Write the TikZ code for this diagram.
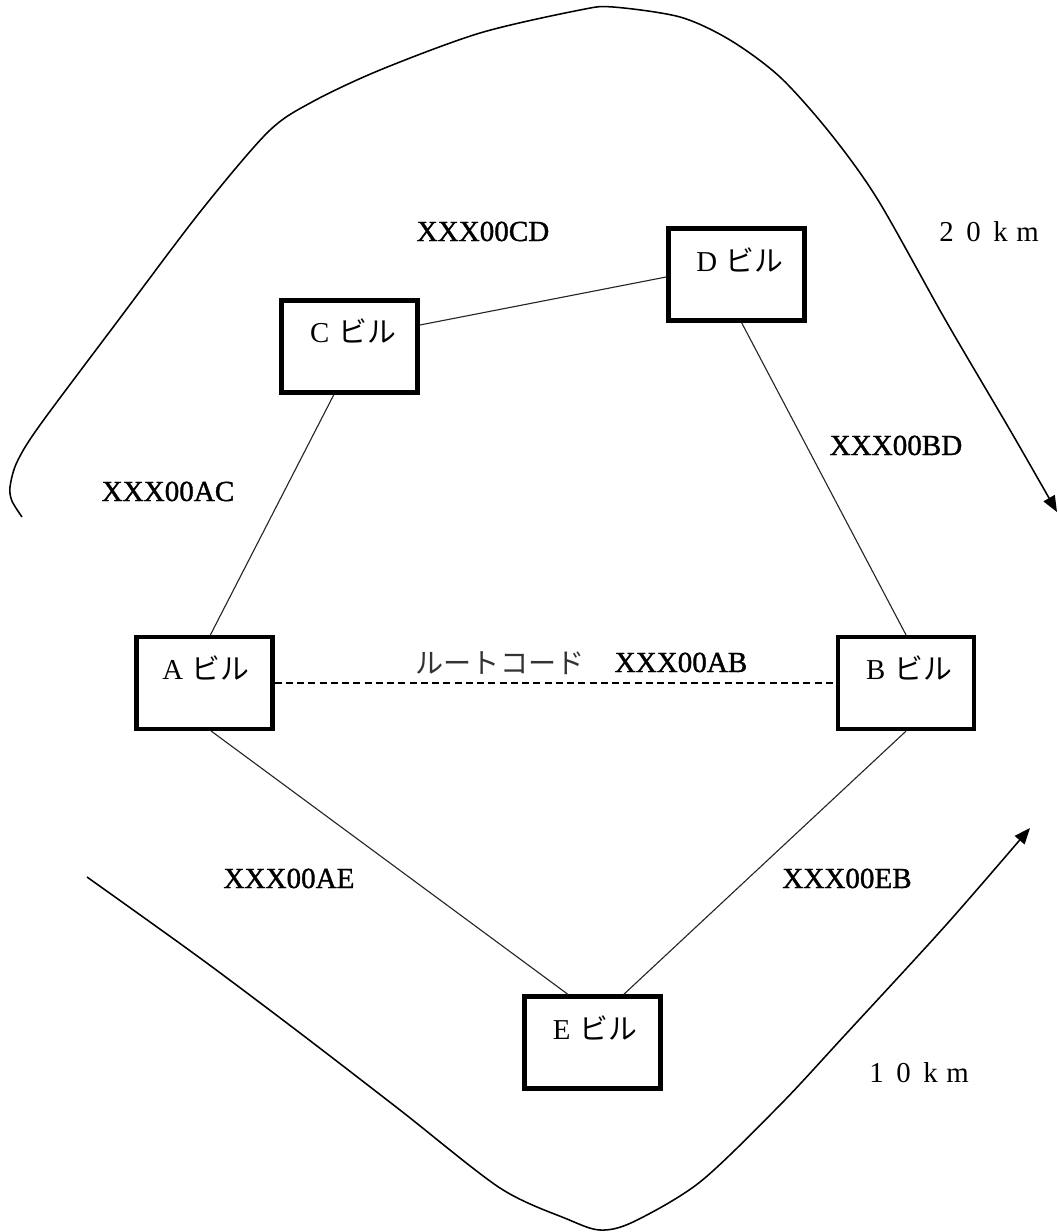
\documentclass[tikz,border=0pt]{standalone}
\usepackage{fontspec}
\setmainfont{Liberation Serif}
\newfontfamily\codefont[FakeBold=1.2]{Liberation Serif}
\newfontfamily\cjk{Noto Sans CJK JP}
\usetikzlibrary{arrows.meta,calc}
\newcommand{\kmcell}[1]{\makebox[0.675cm]{#1}}
\begin{document}
\begin{tikzpicture}[x=0.025cm,y=-0.025cm,
  bldg/.style={draw, line width=3pt, minimum width=3.4cm, minimum height=2.3cm, inner sep=0pt},
  bname/.style={font=\fontsize{20.5}{24}\selectfont, inner sep=0pt, anchor=base},
  code/.style={font=\fontsize{20.7}{24}\codefont, inner sep=0pt, anchor=base},
  jp/.style={font=\fontsize{20}{24}\selectfont\cjk, text=black!80, inner sep=0pt, anchor=base},
  link/.style={line width=0.8pt, draw=black!85},
  route/.style={line width=1.4pt, dash pattern=on 5pt off 3pt},
  dist/.style={line width=1.1pt, -{Triangle[length=4mm,width=3.2mm]}},
]
\useasboundingbox (0,0) rectangle (1059,1232);

% buildings
\node[bldg] (C) at (349.5,346.5) {};
\node[bldg] (D) at (736.5,274.5) {};
\node[bldg] (A) at (204.5,683) {};
\node[bldg] (B) at (906,683) {};
\node[bldg] (E) at (592.5,1042.5) {};

\node[bname] (Ct) at (353,342) {C\hspace{0.22cm}{\cjk ビル}};
\node[bname] (Dt) at (740,271) {D\hspace{0.22cm}{\cjk ビル}};
\node[bname] (At) at (206,679) {A\hspace{0.22cm}{\cjk ビル}};
\node[bname] (Bt) at (909,679) {B\hspace{0.22cm}{\cjk ビル}};
\node[bname] (Et) at (595,1039) {E\hspace{0.22cm}{\cjk ビル}};

% connectors
\draw[link] (C.17.7) -- (D.182);
\draw[link] (C.252.3) -- (A.83.6);
\draw[link] (D.276.5) -- (B.north);
\draw[route] (A.east) -- (B.west);
\draw[link] (A.278.7) -- (E.117.7);
\draw[link] (B.south) -- (E.57.8);

% line codes
\node[code] (cd) at (483,241) {XXX00CD};
\node[code] (ac) at (168,501) {XXX00AC};
\node[code] (bd) at (896,455) {XXX00BD};
\node[code] (ab) at (681,672) {XXX00AB};
\node[jp]   (rc) at (500,673) {ルートコード};
\node[code] (ae) at (289,888) {XXX00AE};
\node[code] (eb) at (847,888) {XXX00EB};

% distances
\node[bname] (k20) at (987,241) {\kmcell{2}\kmcell{0}\kmcell{k}\kmcell{m}};
\node[bname] (k10) at (917,1082) {\kmcell{1}\kmcell{0}\kmcell{k}\kmcell{m}};

\draw[dist] plot[smooth, tension=0.5] coordinates {(22,517) (12,501) (10,487) (17,462) (40,425) (120,318) (200,212) (268,132) (312,102) (380,70) (480,33) (580,10) (613,7) (680,17) (730,40) (780,77) (830,133) (878,200) (946,321) (1010,430) (1057,512)};

\draw[dist] plot[smooth, tension=0.5] coordinates {(87,877) (200,958) (300,1033) (400,1110) (500,1188) (567,1219) (600,1230) (633,1222) (700,1182) (780,1105) (845,1035) (946,925) (1030,828)};
\end{tikzpicture}
\end{document}
